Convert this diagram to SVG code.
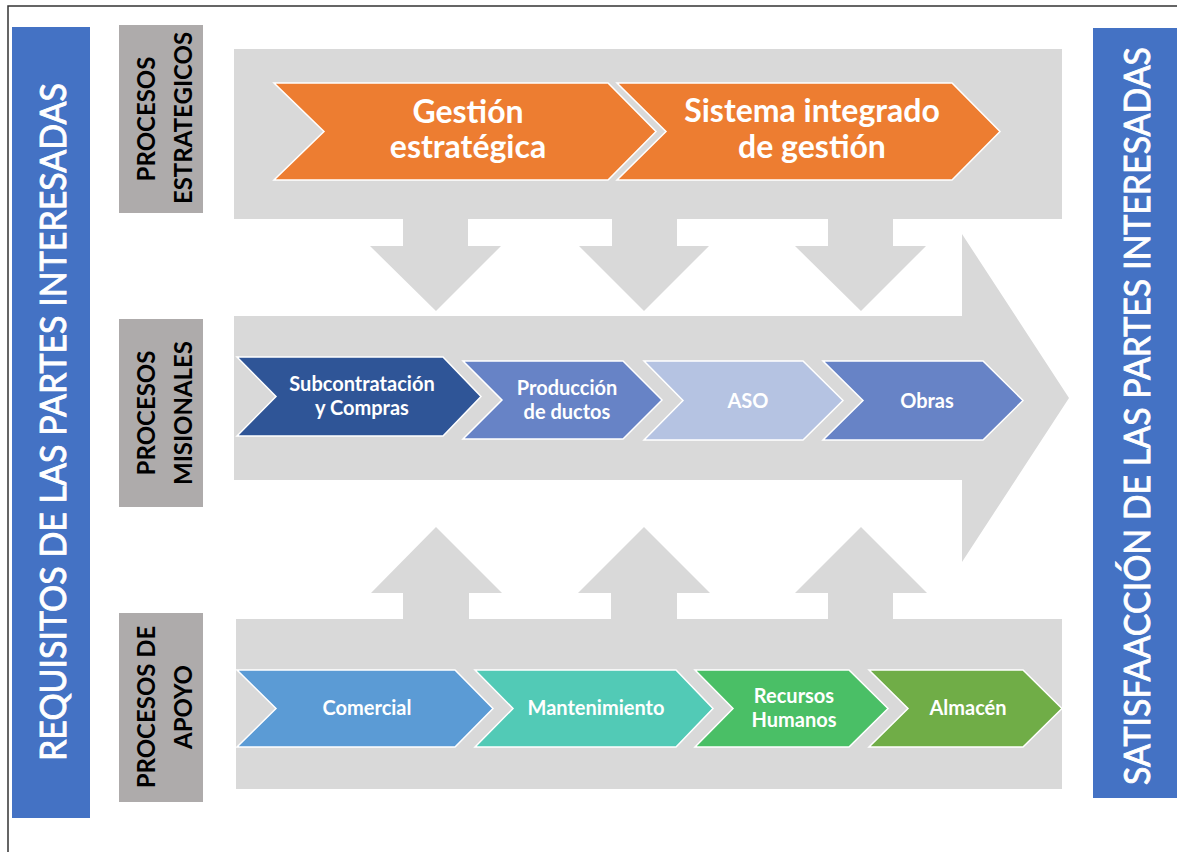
<svg xmlns="http://www.w3.org/2000/svg" width="1177" height="852" viewBox="0 0 1177 852">
  <style>
    .band { fill: #D9D9D9; }
    .lbl { fill: #AEABAB; }
    .side { fill: #4472C4; }
    .chev { stroke: #FFFFFF; stroke-width: 1.5; stroke-linejoin: miter; }
    .t { font-family: Lato, "Open Sans", "Liberation Sans", sans-serif; font-weight: 700; fill: #FFFFFF; text-anchor: middle; }
    .big { font-size: 32px; }
    .small { font-size: 20px; }
    .lt { font-family: Lato, "Open Sans", "Liberation Sans", sans-serif; font-weight: 700; font-size: 24px; fill: #000000; text-anchor: middle; }
    .st { font-family: Lato, "Open Sans", "Liberation Sans", sans-serif; font-weight: 400; font-size: 37px; fill: #FFFFFF; stroke: #FFFFFF; stroke-width: 0.9; text-anchor: middle; }
  </style>

  <rect width="1177" height="852" fill="#FFFFFF"/>
  <!-- page frame -->
  <path d="M8,852 V6 H1177" fill="none" stroke="#333333" stroke-width="1.5"/>

  <!-- side bars -->
  <g id="requisitos">
    <rect class="side" x="12" y="27" width="78" height="791"/>
    <text class="st" transform="translate(66,422) rotate(-90)" textLength="678" lengthAdjust="spacingAndGlyphs">REQUISITOS DE LAS PARTES INTERESADAS</text>
  </g>
  <g id="satisfaccion">
    <rect class="side" x="1093" y="28" width="84" height="770"/>
    <text class="st" transform="translate(1150,416) rotate(-90)" textLength="738" lengthAdjust="spacingAndGlyphs">SATISFAACCIÓN DE LAS PARTES INTERESADAS</text>
  </g>

  <!-- process level labels -->
  <g id="label-estrategicos">
    <rect class="lbl" x="119" y="25" width="84" height="188"/>
    <text class="lt" transform="translate(155,119) rotate(-90)">PROCESOS</text>
    <text class="lt" transform="translate(192,118) rotate(-90)">ESTRATEGICOS</text>
  </g>
  <g id="label-misionales">
    <rect class="lbl" x="119" y="319" width="84" height="188"/>
    <text class="lt" transform="translate(155,413) rotate(-90)">PROCESOS</text>
    <text class="lt" transform="translate(192,413) rotate(-90)">MISIONALES</text>
  </g>
  <g id="label-apoyo">
    <rect class="lbl" x="119" y="613" width="84" height="189"/>
    <text class="lt" transform="translate(155,707) rotate(-90)">PROCESOS DE</text>
    <text class="lt" transform="translate(192,707) rotate(-90)">APOYO</text>
  </g>

  <!-- background bands -->
  <g id="bands">
    <rect class="band" x="234" y="49" width="828" height="170"/>
    <polygon class="band" points="234,316 962,316 962,234 1069,398 962,562 962,480 234,480"/>
    <rect class="band" x="236" y="619" width="826" height="170"/>
  </g>

  <!-- flow arrows between levels -->
  <g id="connectors">
    <polygon class="band" points="403,218 468,218 468,246 501,246 436,311 370,246 403,246"/>
    <polygon class="band" points="612,218 677,218 677,246 709,246 644,311 579,246 612,246"/>
    <polygon class="band" points="828,218 893,218 893,246 926,246 861,311 795,246 828,246"/>
    <polygon class="band" points="403,620 403,593 371,593 436,527 502,593 469,593 469,620"/>
    <polygon class="band" points="611,620 611,593 578,593 644,527 710,593 677,593 677,620"/>
    <polygon class="band" points="828,620 828,593 795,593 861,527 927,593 893,593 893,620"/>
  </g>

  <!-- strategic processes -->
  <g id="gestion-estrategica">
    <path class="chev" fill="#ED7D31" d="M274,83 H608 L656,131.5 L608,180 H274 L324,131.5 Z"/>
    <text class="t big" x="468" y="123">Gestión</text>
    <text class="t big" x="468" y="158">estratégica</text>
  </g>
  <g id="sistema-integrado">
    <path class="chev" fill="#ED7D31" d="M617,83 H952 L1000,131.5 L952,180 H617 L666,131.5 Z"/>
    <text class="t big" x="812" y="122">Sistema integrado</text>
    <text class="t big" x="812" y="158">de gestión</text>
  </g>

  <!-- mission processes -->
  <g id="subcontratacion">
    <path class="chev" fill="#2F5597" d="M237,357 H443 L481,396.5 L443,436 H237 L276,396.5 Z"/>
    <text class="t small" x="362" y="391">Subcontratación</text>
    <text class="t small" x="362" y="415">y Compras</text>
  </g>
  <g id="produccion">
    <path class="chev" fill="#6783C6" d="M463,361 H623 L662,400 L623,439 H463 L502,400 Z"/>
    <text class="t small" x="567" y="395">Producción</text>
    <text class="t small" x="567" y="419">de ductos</text>
  </g>
  <g id="aso">
    <path class="chev" fill="#B5C3E2" d="M644,361 H803 L843,400.5 L803,440 H644 L683,400.5 Z"/>
    <text class="t small" x="748" y="408">ASO</text>
  </g>
  <g id="obras">
    <path class="chev" fill="#6783C6" d="M823,361 H983 L1023,400.5 L983,440 H823 L863,400.5 Z"/>
    <text class="t small" x="927" y="408">Obras</text>
  </g>

  <!-- support processes -->
  <g id="comercial">
    <path class="chev" fill="#5B9BD5" d="M237,670 H455 L493,708.5 L455,747 H237 L276,708.5 Z"/>
    <text class="t small" x="367" y="715">Comercial</text>
  </g>
  <g id="mantenimiento">
    <path class="chev" fill="#52CAB6" d="M475,670 H676 L713,708.5 L676,747 H475 L513,708.5 Z"/>
    <text class="t small" x="596" y="715">Mantenimiento</text>
  </g>
  <g id="recursos-humanos">
    <path class="chev" fill="#4ABF66" d="M695,670 H849 L888,708.5 L849,747 H695 L733,708.5 Z"/>
    <text class="t small" x="794" y="703">Recursos</text>
    <text class="t small" x="794" y="727">Humanos</text>
  </g>
  <g id="almacen">
    <path class="chev" fill="#70AD47" d="M869,670 H1023 L1062,708.5 L1023,747 H869 L908,708.5 Z"/>
    <text class="t small" x="968" y="715">Almacén</text>
  </g>
</svg>
